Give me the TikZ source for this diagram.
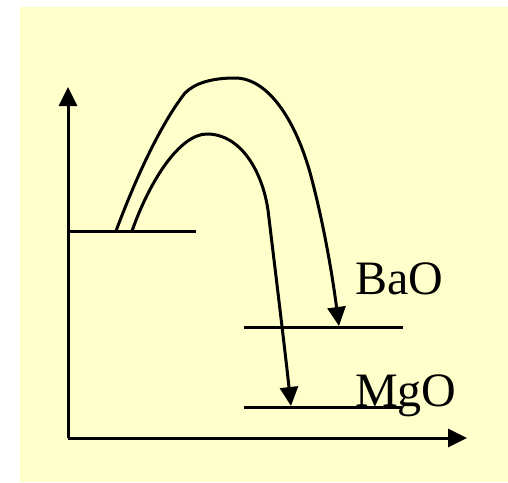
\documentclass[tikz,border=0pt]{standalone}
\usepackage{fontspec}
\setmainfont{Liberation Serif}
\usetikzlibrary{arrows.meta}
\definecolor{bgyellow}{RGB}{255,255,204}
\tikzset{
  ln/.style={line width=3pt},
  arr/.style={ln,-{Triangle[length=19pt,width=18pt]}},
  lbl/.style={anchor=base west,inner sep=0pt,font=\fontsize{48}{52}\selectfont}
}
\begin{document}
\begin{tikzpicture}[x=1pt,y=-1pt]
\useasboundingbox (0,0) rectangle (508,482);
\fill[white] (0,0) rectangle (508,482);
\fill[bgyellow] (20,7) rectangle (508,482);
% axes
\coordinate (O) at (68,438);
\coordinate (Ytip) at (68,87);
\coordinate (Xtip) at (467,438);
\draw[arr] (O) -- (Ytip);
\draw[arr] (O) -- (Xtip);
% levels
\coordinate (L1a) at (68,231);
\coordinate (L1b) at (196,231);
\coordinate (Ba1) at (244,327);
\coordinate (Ba2) at (403,327);
\coordinate (Mg1) at (244,407);
\coordinate (Mg2) at (402,407);
\draw[ln] (L1a) -- (L1b);
\draw[ln] (Ba1) -- (Ba2);
\draw[ln] (Mg1) -- (Mg2);
% curves
\coordinate (s1) at (116,231);
\coordinate (e1) at (339,326);
\coordinate (s2) at (132,231);
\coordinate (e2) at (291,406);
\draw[arr] (s1) .. controls (135,180) and (160,125) .. (185,93)
  .. controls (195,83) and (212,78) .. (235,78)
  .. controls (270,78) and (298,125) .. (312,180)
  .. controls (325,230) and (333,280) .. (e1);
\draw[arr] (s2) .. controls (150,180) and (180,134) .. (207,134)
  .. controls (240,134) and (262,170) .. (268,210)
  .. controls (274,260) and (285,350) .. (e2);
% labels
\node[lbl] (bao) at (355,294) {BaO};
\node[lbl] (mgo) at (355,406) {MgO};
\end{tikzpicture}
\end{document}
